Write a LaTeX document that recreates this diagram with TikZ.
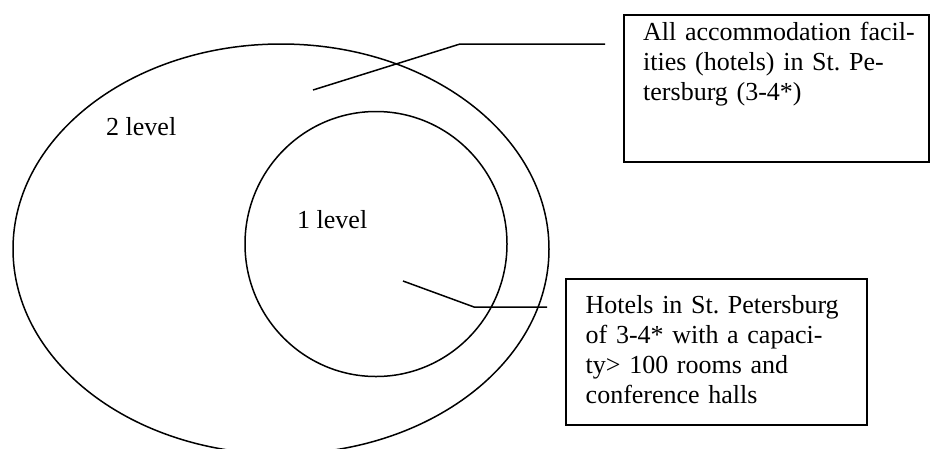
\documentclass[tikz,border=0pt]{standalone}
\usepackage{fontspec}
\setmainfont{Liberation Serif}
\frenchspacing
\begin{document}
\begin{tikzpicture}[x=1pt,y=-1pt,
  outline/.style={draw=black,line width=1.5pt},
  leader/.style={draw=black,line width=1.5pt},
  frame/.style={draw=black,line width=1.5pt,rectangle,inner sep=0pt,anchor=north west},
  caption/.style={inner sep=0pt,anchor=base west,font=\frenchspacing\fontsize{26}{30.3}\selectfont},
  note/.style={caption,text width=290pt,align=left}]
\useasboundingbox (0,0) rectangle (931,448);
\clip (0,0) rectangle (931,448);
\fill[white] (0,0) rectangle (931,448);

% nested sets
\draw[outline] (281,249) ellipse [x radius=268pt,y radius=205pt];
\draw[outline] (376,244) ellipse [x radius=131pt,y radius=132.5pt];
\node[caption] (lvltwo) at (106,135) {2 level};
\node[caption] (lvlone) at (297,228) {1 level};

% explanation boxes
\node[frame,minimum width=305pt,minimum height=147pt] (allbox) at (623,14) {};
\node[note] (alltext) at (643,40) {All accommodation facil-\\ities (hotels) in St. Pe-\\tersburg (3-4*)};
\node[frame,minimum width=301pt,minimum height=146pt] (bigbox) at (565,278) {};
\node[note] (bigtext) at (585.5,313) {Hotels in St. Petersburg\\of 3-4* with a capaci-\\ty> 100 rooms and\\conference halls};

% leader lines
\coordinate (ua) at (313,90);
\coordinate (ub) at (460,44);
\coordinate (uc) at (605,44);
\draw[leader] (ua) -- (ub) -- (uc);
\coordinate (la) at (403,281);
\coordinate (lb) at (474,307);
\coordinate (lc) at (547,307);
\draw[leader] (la) -- (lb) -- (lc);
\end{tikzpicture}
\end{document}
